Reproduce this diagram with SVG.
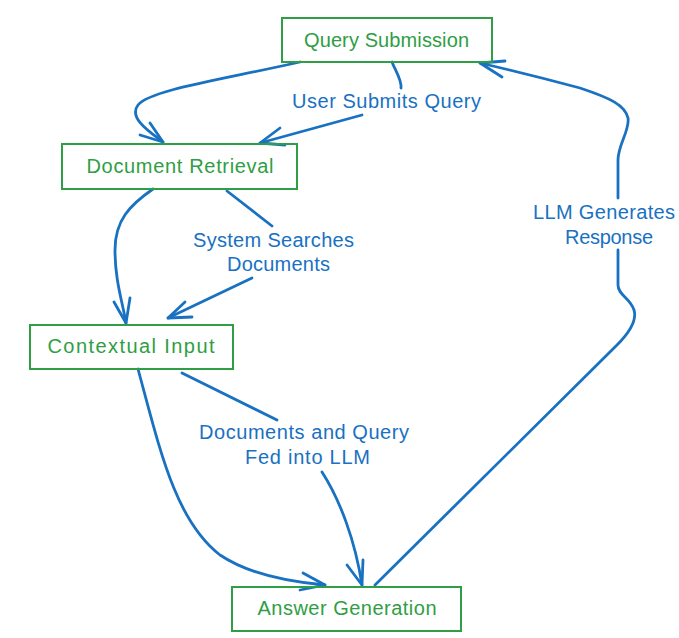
<svg xmlns="http://www.w3.org/2000/svg" width="679" height="638" viewBox="0 0 679 638">
<style>
.node rect{fill:none;stroke:#2f9e44;stroke-width:2}
.node text{fill:#2f9e44;font-family:"Liberation Sans",Arial,sans-serif;font-size:20px;text-anchor:middle;dominant-baseline:central}
.edge{fill:none;stroke:#1971c2;stroke-width:2.8;stroke-linecap:round;stroke-linejoin:round}
.lbl{fill:#1971c2;font-family:"Liberation Sans",Arial,sans-serif;font-size:20px;text-anchor:middle;dominant-baseline:central}
</style>
<rect width="679" height="638" fill="#ffffff"/>
<g id="connectors">
  <path class="edge" d="M300,62 C220,80 150,90 138,105 C128,118 150,132 163,142"/>
  <path class="edge" d="M150,123 L163,142 L140,135"/>
  <path class="edge" d="M392,62 C395,70 402,80 401,88"/>
  <path class="edge" d="M362,115 L260,143"/>
  <path class="edge" d="M280,128 L260,143 L285,145"/>
  <path class="edge" d="M153,189 C130,205 115,220 115,250 C115,280 122,300 126,323"/>
  <path class="edge" d="M114,302 L126,323 L130,298"/>
  <path class="edge" d="M227,191 L272,226"/>
  <path class="edge" d="M252,278 L168,318"/>
  <path class="edge" d="M185,302 L168,318 L192,317"/>
  <path class="edge" d="M138,369 C160,450 175,520 220,555 C250,575 290,582 325,585"/>
  <path class="edge" d="M303,573 L325,585 L300,590"/>
  <path class="edge" d="M182,373 L277,420"/>
  <path class="edge" d="M322,472 C340,500 355,540 362,585"/>
  <path class="edge" d="M347,565 L362,585 L363,560"/>
  <path class="edge" d="M375,585 L617,345 C630,332 637,320 634,310 C630,298 618,295 618,285 L618,250"/>
  <path class="edge" d="M618,198 L618,160 C618,145 630,130 628,118 C625,105 610,98 580,88 C550,80 510,70 480,63"/>
  <path class="edge" d="M505,61 L480,63 L502,77"/>
  <text class="lbl" x="386.5" y="101" textLength="189" lengthAdjust="spacing">User Submits Query</text>
  <text class="lbl" x="273.5" y="240" textLength="161" lengthAdjust="spacing">System Searches</text>
  <text class="lbl" x="278.5" y="264" textLength="103" lengthAdjust="spacing">Documents</text>
  <text class="lbl" x="304" y="432" textLength="210" lengthAdjust="spacing">Documents and Query</text>
  <text class="lbl" x="307.5" y="457" textLength="125" lengthAdjust="spacing">Fed into LLM</text>
  <text class="lbl" x="604" y="212" textLength="142" lengthAdjust="spacing">LLM Generates</text>
  <text class="lbl" x="609" y="237" textLength="88" lengthAdjust="spacing">Response</text>
</g>
<g id="query-submission" class="node">
  <rect x="282" y="18" width="210" height="44"/>
  <text x="386.5" y="40" textLength="165" lengthAdjust="spacing">Query Submission</text>
</g>
<g id="document-retrieval" class="node">
  <rect x="62" y="144" width="235" height="45"/>
  <text x="180" y="166" textLength="187" lengthAdjust="spacing">Document Retrieval</text>
</g>
<g id="contextual-input" class="node">
  <rect x="30" y="325" width="203" height="44"/>
  <text x="131" y="346" textLength="167" lengthAdjust="spacing">Contextual Input</text>
</g>
<g id="answer-generation" class="node">
  <rect x="232" y="587" width="229" height="44"/>
  <text x="347" y="608" textLength="179" lengthAdjust="spacing">Answer Generation</text>
</g>
</svg>
